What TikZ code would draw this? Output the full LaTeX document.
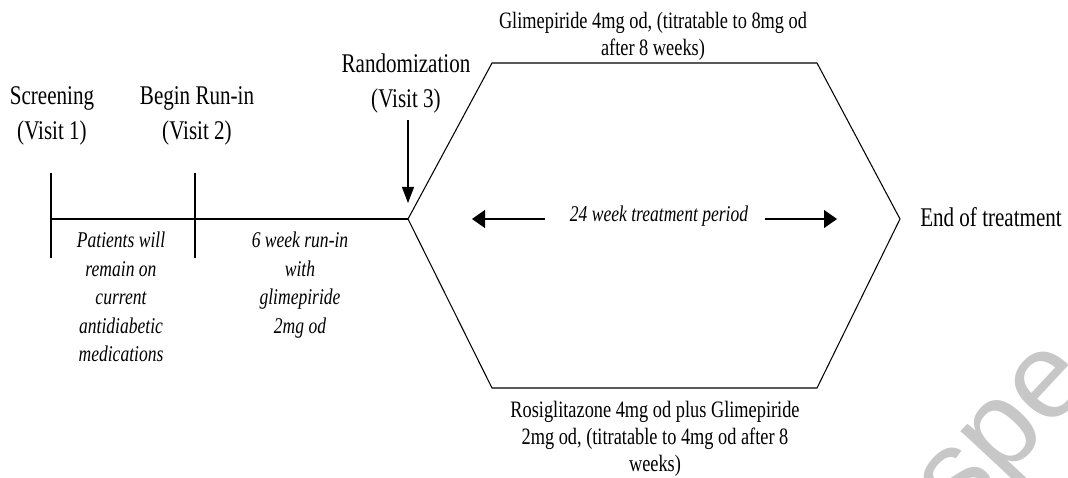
\documentclass[tikz,border=0pt]{standalone}
\usepackage{fontspec}
\setmainfont{Liberation Serif}[FakeStretch=0.78]
\newfontfamily\wmfont{Liberation Sans}
\usetikzlibrary{arrows.meta}
\begin{document}
\begin{tikzpicture}[x=1pt,y=-1pt,
  line/.style={line width=1.05pt},
  big/.style={font=\fontsize{27}{35}\selectfont, inner sep=0pt, align=center},
  drug/.style={font=\fontsize{23.5}{27}\selectfont, inner sep=0pt, align=center},
  note/.style={font=\fontsize{22.5}{28.5}\selectfont\itshape, inner sep=0pt, align=center},
  harrow/.style={line, -{Triangle[length=13pt,width=18pt]}},
  varrow/.style={line, -{Triangle[length=16pt,width=12pt]}},
]
\useasboundingbox (0,0) rectangle (1068,478);
\begin{scope}
\clip (0,0) rectangle (1068,478);
\node[rotate=47, text=black!22, font=\wmfont\fontsize{122}{122}\selectfont] (wm) at (1013,440) {spe};
\end{scope}

% labels
\node[big, anchor=north] (scr) at (52,86) {Screening\\(Visit 1)};
\node[big, anchor=north] (run) at (197,86) {Begin Run-in\\(Visit 2)};
\node[big, anchor=north] (rand) at (406,54) {Randomization\\(Visit 3)};
\node[big, anchor=base] (end) at (991,227) {End of treatment};
\node[drug, anchor=north] (top) at (653,12) {Glimepiride 4mg od, (titratable to 8mg od\\after 8 weeks)};
\node[drug, anchor=north] (bot) at (655,401) {Rosiglitazone 4mg od plus Glimepiride\\2mg od, (titratable to 4mg od after 8\\weeks)};
\node[note, anchor=north] (pat) at (121,232) {Patients will\\remain on\\current\\antidiabetic\\medications};
\node[note, anchor=north] (six) at (300,232) {6 week run-in\\with\\glimepiride\\2mg od};
\node[note, anchor=base] (period) at (659,222) {24 week treatment period};

% hexagon
\coordinate (L) at (408,219);
\coordinate (TL) at (492,63);
\coordinate (TR) at (817,63);
\coordinate (R) at (900,219);
\coordinate (BR) at (817,388);
\coordinate (BL) at (492,388);
\draw[line, line join=miter] (L) -- (TL) -- (TR) -- (R) -- (BR) -- (BL) -- cycle;

% timeline
\coordinate (t0) at (51,219);
\coordinate (v1t) at (51,173);
\coordinate (v1b) at (51,258);
\coordinate (v2t) at (195,173);
\coordinate (v2b) at (195,258);
\draw[line] (t0) -- (L);
\draw[line] (v1t) -- (v1b);
\draw[line] (v2t) -- (v2b);

% arrows
\coordinate (rt) at (408,120);
\coordinate (rtip) at (408,203);
\draw[varrow] (rt) -- (rtip);
\coordinate (pl) at (545,219);
\coordinate (plt) at (472,219);
\coordinate (pr) at (765,219);
\coordinate (prt) at (837,219);
\draw[harrow] (pl) -- (plt);
\draw[harrow] (pr) -- (prt);
\end{tikzpicture}
\end{document}
